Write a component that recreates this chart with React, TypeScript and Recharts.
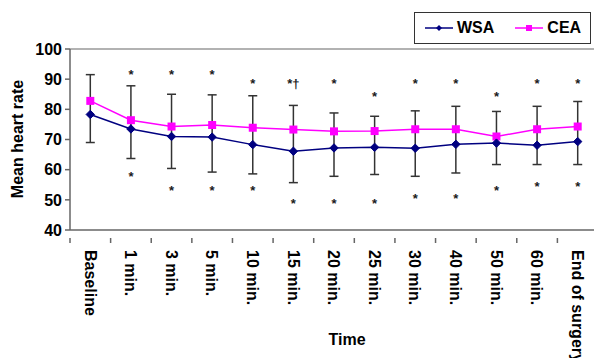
import React from "react";
import { ComposedChart, Line, XAxis, YAxis, ErrorBar, ReferenceLine } from "recharts";

const categories = [
  "Baseline", "1 min.", "3 min.", "5 min.", "10 min.", "15 min.", "20 min.",
  "25 min.", "30 min.", "40 min.", "50 min.", "60 min.", "End of surgery"
];
const wsa = [78.3, 73.5, 71, 70.8, 68.3, 66.1, 67.2, 67.4, 67.1, 68.4, 68.8, 68.1, 69.3];
const cea = [82.8, 76.4, 74.3, 74.8, 73.9, 73.3, 72.7, 72.8, 73.4, 73.4, 71, 73.4, 74.3];
const sdLow = [69, 63.7, 60.4, 59.2, 58.6, 55.7, 57.8, 58.4, 57.8, 58.9, 61.7, 61.7, 61.7];
const sdHigh = [91.5, 87.8, 85, 84.8, 84.5, 81.3, 78.8, 77.7, 79.5, 81, 79.3, 81, 82.6];
const upperStar = [null, 92.4, 92.4, 92.4, 89.4, 89.4, 89.4, 85.2, 89.4, 89.4, 85.2, 89.4, 89.4];
const upperMark = ["", "*", "*", "*", "*", "*\u2020", "*", "*", "*", "*", "*", "*", "*"];
const lowerStar = [null, 58.6, 54, 54, 54, 49.7, 49.7, 49.7, 51.4, 51.4, 53.8, 55.1, 55.1];
const yTicks = [40, 50, 60, 70, 80, 90, 100];

const data = categories.map((name, i) => {
  const mid = (sdLow[i] + sdHigh[i]) / 2;
  return {
    name,
    wsa: wsa[i],
    cea: cea[i],
    mid,
    err: [mid - sdLow[i], sdHigh[i] - mid],
    up: upperStar[i],
    upMark: upperMark[i],
    low: lowerStar[i]
  };
});

const FONT = "Arial, 'Liberation Sans', sans-serif";
const NAVY = "#000080";
const MAGENTA = "#ff00ff";
const AXIS = "#666666";
const BAND = 40.6;

const Diamond = (props: any) => {
  const { cx, cy, index } = props;
  if (cx == null || cy == null) return <g key={index} />;
  const r = 4.2;
  return (
    <path key={index} d={`M${cx},${cy - r}L${cx + r},${cy}L${cx},${cy + r}L${cx - r},${cy}Z`} fill={NAVY} stroke={NAVY} />
  );
};

const Square = (props: any) => {
  const { cx, cy, index } = props;
  if (cx == null || cy == null) return <g key={index} />;
  return <rect key={index} x={cx - 4} y={cy - 4} width={8} height={8} fill={MAGENTA} />;
};

const Star = (props: any) => {
  const { cx, cy, index, payload, markKey } = props;
  if (cx == null || cy == null) return <g key={index} />;
  const label = markKey ? payload[markKey] : "*";
  if (!label) return <g key={index} />;
  return (
    <text key={index} x={cx} y={cy + 7} textAnchor="middle" fontSize={13} fontWeight="bold" fontFamily={FONT} fill="#1a1a1a">
      {label}
    </text>
  );
};

const XTick = (props: any) => {
  const { x, y, payload } = props;
  const bx = x - BAND / 2;
  return (
    <g>
      <line x1={bx} y1={y} x2={bx} y2={y + 5} stroke={AXIS} strokeWidth={1.5} />
      <text
        x={0}
        y={0}
        transform={`translate(${x},${y + 12}) rotate(90)`}
        dy="0.36em"
        textAnchor="start"
        fontSize={16}
        fontWeight="bold"
        fontFamily={FONT}
        fill="#000"
      >
        {payload.value}
      </text>
    </g>
  );
};

export default function App() {
  return (
    <div style={{ position: "fixed", left: 0, top: 0, width: 594, height: 358, overflow: "hidden", background: "#fff", fontFamily: FONT }}>
      <ComposedChart width={600} height={358} data={data} margin={{ top: 49, right: 2, left: 0, bottom: 28 }}>
        <ReferenceLine y={100} stroke="#999" strokeWidth={1.5} />
        <XAxis
          dataKey="name"
          interval={0}
          height={100}
          padding={{ left: BAND / 2, right: BAND / 2 }}
          axisLine={{ stroke: AXIS, strokeWidth: 1.5 }}
          tickLine={false}
          tick={<XTick />}
        />
        <YAxis
          width={70}
          domain={[40, 100]}
          ticks={yTicks}
          interval={0}
          axisLine={{ stroke: AXIS, strokeWidth: 1.5 }}
          tickLine={{ stroke: AXIS, strokeWidth: 1.5 }}
          tickSize={5}
          tickMargin={3}
          tick={{ fill: "#000", fontSize: 16, fontWeight: "bold", fontFamily: FONT }}
        />
        <Line dataKey="mid" stroke="none" dot={false} activeDot={false} isAnimationActive={false} legendType="none">
          <ErrorBar dataKey="err" width={4.5} stroke="#333" strokeWidth={1.5} direction="y" />
        </Line>
        <Line dataKey="cea" stroke={MAGENTA} strokeWidth={1.5} dot={<Square />} activeDot={false} isAnimationActive={false} />
        <Line dataKey="wsa" stroke={NAVY} strokeWidth={1.5} dot={<Diamond />} activeDot={false} isAnimationActive={false} />
        <Line dataKey="up" stroke="none" dot={<Star markKey="upMark" />} activeDot={false} isAnimationActive={false} />
        <Line dataKey="low" stroke="none" dot={<Star />} activeDot={false} isAnimationActive={false} />
      </ComposedChart>

      <div
        style={{
          position: "absolute",
          left: 18,
          top: 139,
          transform: "translate(-50%, -50%) rotate(-90deg)",
          whiteSpace: "nowrap",
          fontSize: 16,
          fontWeight: "bold"
        }}
      >
        Mean heart rate
      </div>
      <div style={{ position: "absolute", left: 347, top: 340, transform: "translate(-50%, -50%)", fontSize: 16, fontWeight: "bold" }}>
        Time
      </div>

      <div
        style={{
          position: "absolute",
          left: 414,
          top: 12,
          width: 177,
          height: 32,
          border: "1px solid #333",
          boxSizing: "border-box",
          display: "flex",
          alignItems: "center",
          fontSize: 16,
          fontWeight: "bold"
        }}
      >
        <svg width={28} height={12} style={{ marginLeft: 10 }}>
          <line x1={0} y1={6} x2={28} y2={6} stroke={NAVY} strokeWidth={1.5} />
          <path d="M14,3L17,6L14,9L11,6Z" fill={NAVY} />
        </svg>
        <span style={{ marginLeft: 4 }}>WSA</span>
        <svg width={28} height={12} style={{ marginLeft: 21 }}>
          <line x1={0} y1={6} x2={28} y2={6} stroke={MAGENTA} strokeWidth={1.5} />
          <rect x={11} y={3} width={6} height={6} fill={MAGENTA} />
        </svg>
        <span style={{ marginLeft: 4 }}>CEA</span>
      </div>
    </div>
  );
}
